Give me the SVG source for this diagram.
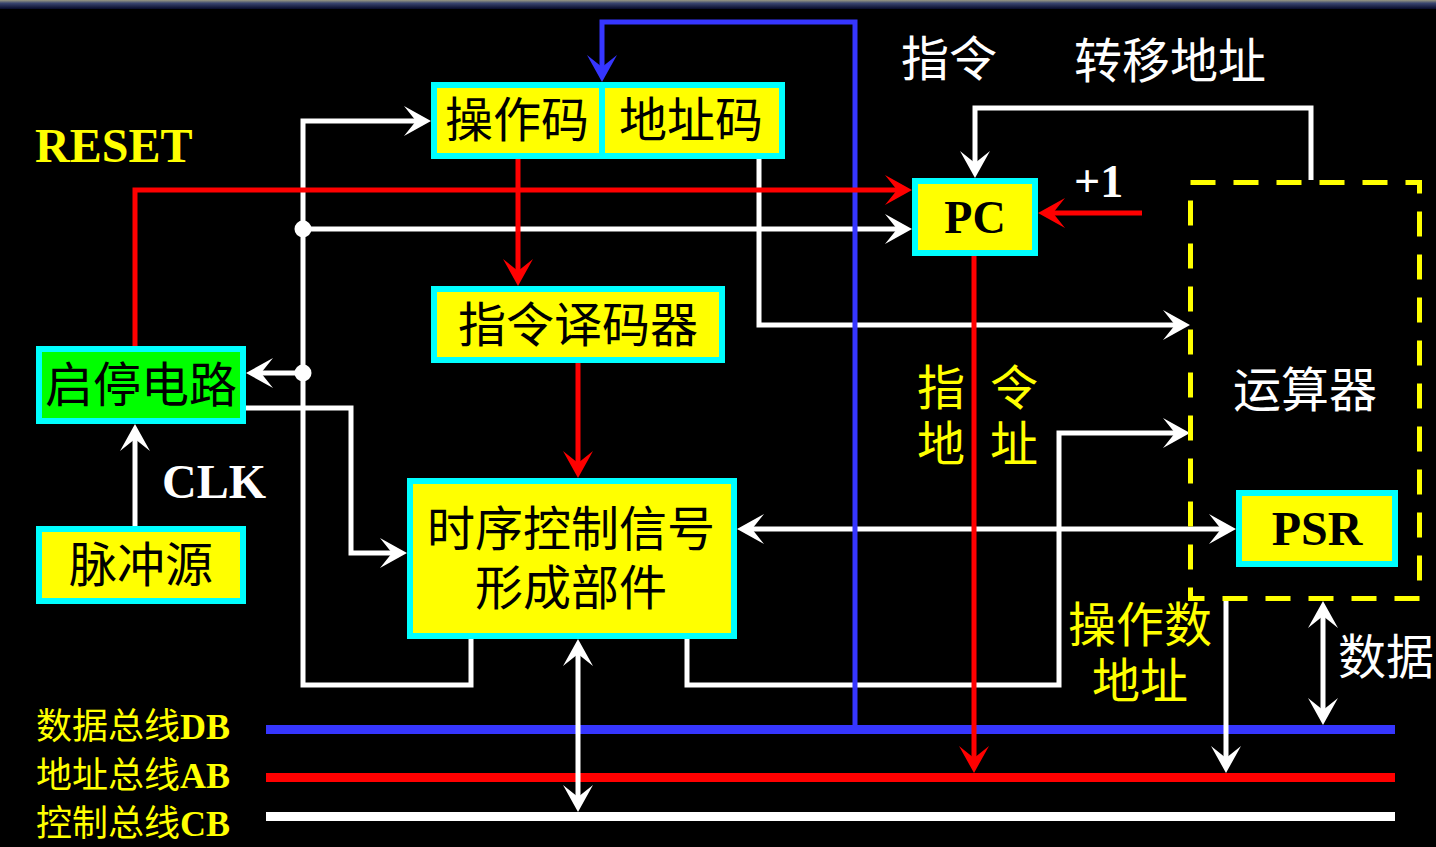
<svg xmlns="http://www.w3.org/2000/svg" width="1436" height="847" viewBox="0 0 1436 847">
<defs>
<linearGradient id="topband" x1="0" y1="0" x2="0" y2="1">
<stop offset="0" stop-color="#9a9a82"/>
<stop offset="0.35" stop-color="#3a4670"/>
<stop offset="1" stop-color="#060a28"/>
</linearGradient>
<marker id="aw" markerUnits="userSpaceOnUse" orient="auto-start-reverse" refX="-14" refY="0" markerWidth="30" markerHeight="32" overflow="visible">
<path d="M0,0 L-27,-15 L-15,0 L-27,15 Z" fill="#ffffff"/>
</marker>
<marker id="ar" markerUnits="userSpaceOnUse" orient="auto-start-reverse" refX="-14" refY="0" markerWidth="30" markerHeight="32" overflow="visible">
<path d="M0,0 L-27,-15 L-15,0 L-27,15 Z" fill="#ff0000"/>
</marker>
<marker id="ab" markerUnits="userSpaceOnUse" orient="auto-start-reverse" refX="-14" refY="0" markerWidth="30" markerHeight="32" overflow="visible">
<path d="M0,0 L-27,-15 L-15,0 L-27,15 Z" fill="#3636ff"/>
</marker>
<style>
.box{fill:#ffff00;stroke:#00ffff;stroke-width:6}
.green{fill:#00ff00}
.cjk{font-family:"Noto Sans CJK SC","Noto Sans CJK JP",sans-serif;font-size:48px}
.cjks{font-family:"Noto Sans CJK SC","Noto Sans CJK JP",sans-serif;font-size:36px}
.lat{font-family:"Liberation Serif","Times New Roman",serif;font-weight:bold}
.lats{font-family:"Liberation Serif","Times New Roman",serif;font-weight:bold;font-size:36px}
.w{stroke:#ffffff;stroke-width:5;fill:none}
.r{stroke:#ff0000;stroke-width:5;fill:none}
.b{stroke:#3636ff;stroke-width:5;fill:none}
.mid{text-anchor:middle}
</style>
</defs>
<rect x="0" y="0" width="1436" height="847" fill="#000000"/>
<rect x="0" y="0" width="1436" height="9" fill="url(#topband)"/>

<g id="connectors">
<!-- buses -->
<line x1="266" y1="729.5" x2="1395" y2="729.5" stroke="#3636ff" stroke-width="9"/>
<line x1="266" y1="777.5" x2="1395" y2="777.5" stroke="#ff0000" stroke-width="9"/>
<line x1="266" y1="816.5" x2="1395" y2="816.5" stroke="#ffffff" stroke-width="9"/>
<!-- white -->
<path class="w" d="M471,639 V685 H303 V121 H417" marker-end="url(#aw)"/>
<path class="w" d="M303,229 H898" marker-end="url(#aw)"/>
<path class="w" d="M303,373 H260" marker-end="url(#aw)"/>
<circle cx="303" cy="229" r="8.5" fill="#ffffff"/>
<circle cx="303" cy="373" r="8.5" fill="#ffffff"/>
<path class="w" d="M246,408 H351 V553 H393" marker-end="url(#aw)"/>
<path class="w" d="M135,526 V438" marker-end="url(#aw)"/>
<path class="w" d="M759,159 V325 H1176" marker-end="url(#aw)"/>
<path class="w" d="M687,639 V685 H1059 V433 H1176" marker-end="url(#aw)"/>
<path class="w" d="M751,529 H1222" marker-start="url(#aw)" marker-end="url(#aw)"/>
<path class="w" d="M1311,180 V108 H975 V164" marker-end="url(#aw)"/>
<path class="w" d="M1226,601 V759" marker-end="url(#aw)"/>
<path class="w" d="M1323,615 V711" marker-start="url(#aw)" marker-end="url(#aw)"/>
<path class="w" d="M578,653 V798" marker-start="url(#aw)" marker-end="url(#aw)"/>
<!-- blue -->
<path class="b" d="M855,727 V22 H602 V68" marker-end="url(#ab)"/>
<!-- red -->
<path class="r" d="M135,346 V190 H898" marker-end="url(#ar)"/>
<path class="r" d="M518,159 V272" marker-end="url(#ar)"/>
<path class="r" d="M578,363 V464" marker-end="url(#ar)"/>
<path class="r" d="M974,256 V759" marker-end="url(#ar)"/>
<path class="r" d="M1142,213 H1052" marker-end="url(#ar)"/>
</g>

<g id="alu">
<rect x="1190.5" y="182.5" width="229" height="416" fill="none" stroke="#ffff00" stroke-width="5" stroke-dasharray="25 18"/>
<text class="cjk mid" x="1305" y="407" fill="#ffffff">运算器</text>
</g>

<g id="ir">
<rect class="box" x="434" y="85" width="348" height="71"/>
<line x1="602" y1="85" x2="602" y2="156" stroke="#00ffff" stroke-width="6"/>
<text class="cjk mid" x="517" y="137" fill="#000000">操作码</text>
<text class="cjk mid" x="691" y="137" fill="#000000">地址码</text>
</g>

<g id="pc">
<rect class="box" x="915" y="181" width="120" height="72"/>
<text class="lat mid" x="975" y="233" font-size="46" fill="#000000">PC</text>
</g>

<g id="decoder">
<rect class="box" x="434" y="289" width="288" height="71"/>
<text class="cjk mid" x="578" y="342" fill="#000000">指令译码器</text>
</g>

<g id="timing">
<rect class="box" x="410" y="481" width="324" height="155"/>
<text class="cjk mid" x="571" y="546" fill="#000000">时序控制信号</text>
<text class="cjk mid" x="571" y="605" fill="#000000">形成部件</text>
</g>

<g id="startstop">
<rect class="box green" x="39" y="349" width="204" height="72"/>
<text class="cjk mid" x="141" y="402" fill="#000000">启停电路</text>
</g>

<g id="clock">
<rect class="box" x="39" y="529" width="204" height="72"/>
<text class="cjk mid" x="141" y="582" fill="#000000">脉冲源</text>
</g>

<g id="psr">
<rect class="box" x="1239" y="493" width="156" height="71"/>
<text class="lat mid" x="1317" y="545" font-size="48" fill="#000000">PSR</text>
</g>

<g id="labels">
<text class="lat" x="35" y="162" font-size="48" fill="#ffff00">RESET</text>
<text class="lat" x="162" y="498" font-size="48" fill="#ffffff">CLK</text>
<text class="lat" x="1074" y="197" font-size="46" fill="#ffffff">+1</text>
<text class="cjk mid" x="949" y="76" fill="#ffffff">指令</text>
<text class="cjk mid" x="1170" y="78" fill="#ffffff">转移地址</text>
<text class="cjk mid" x="941" y="405" fill="#ffff00">指</text>
<text class="cjk mid" x="1014" y="405" fill="#ffff00">令</text>
<text class="cjk mid" x="941" y="461" fill="#ffff00">地</text>
<text class="cjk mid" x="1014" y="461" fill="#ffff00">址</text>
<text class="cjk mid" x="1140" y="642" fill="#ffff00">操作数</text>
<text class="cjk mid" x="1140" y="698" fill="#ffff00">地址</text>
<text class="cjk mid" x="1386" y="674" fill="#ffffff">数据</text>
<text x="36" y="739" fill="#ffff00"><tspan class="cjks">数据总线</tspan><tspan class="lats">DB</tspan></text>
<text x="36" y="788" fill="#ffff00"><tspan class="cjks">地址总线</tspan><tspan class="lats">AB</tspan></text>
<text x="36" y="836" fill="#ffff00"><tspan class="cjks">控制总线</tspan><tspan class="lats">CB</tspan></text>
</g>
</svg>
